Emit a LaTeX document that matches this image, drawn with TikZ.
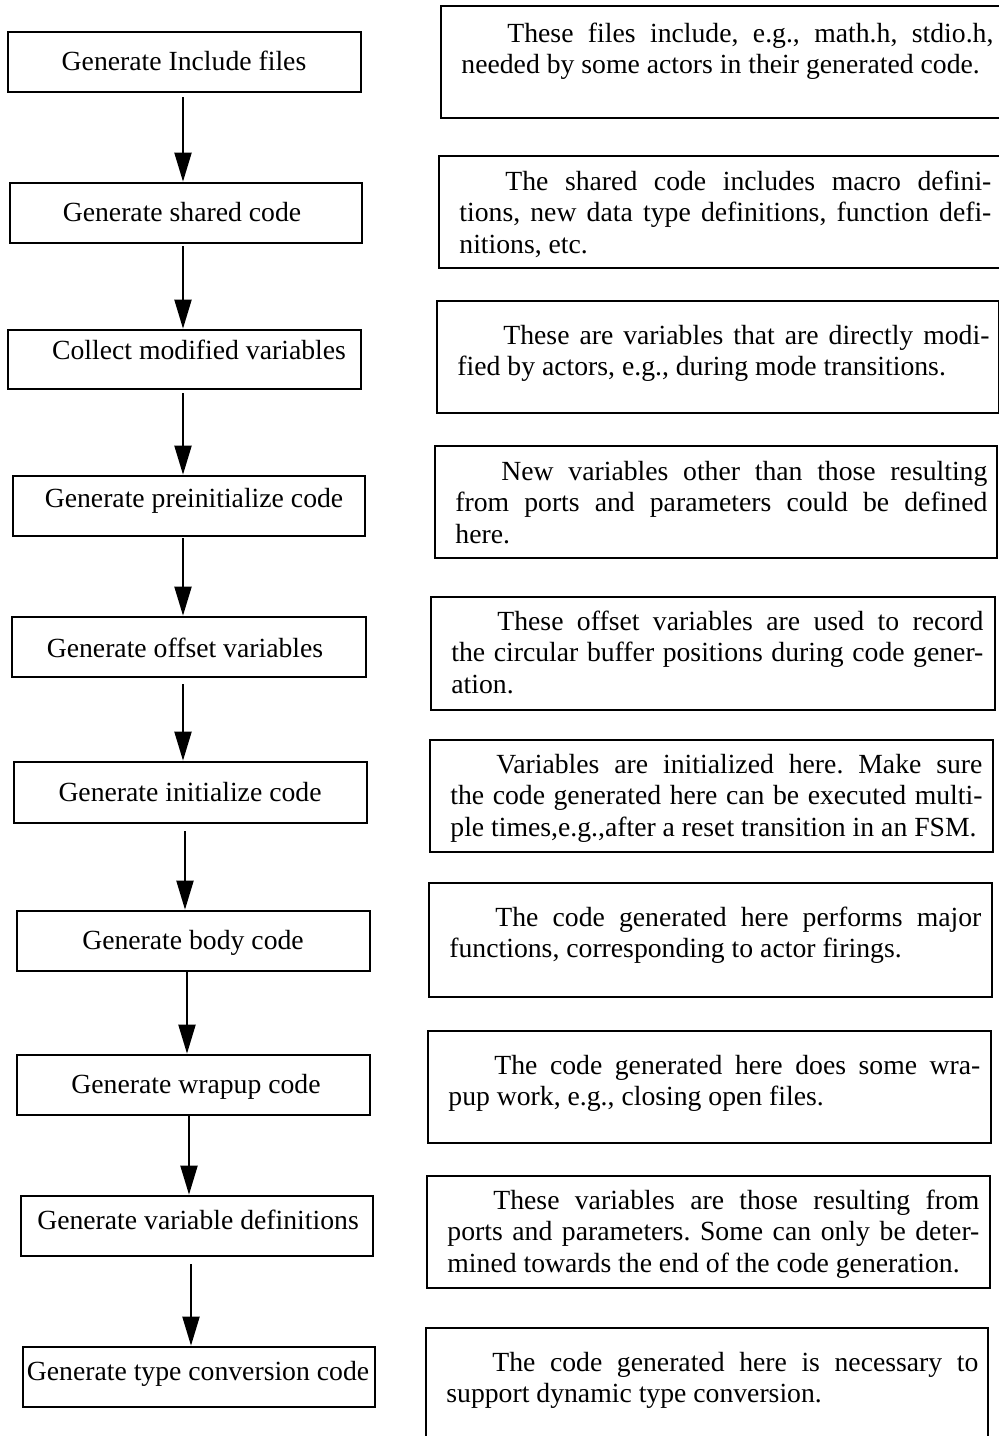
\documentclass[tikz,border=0pt]{standalone}
\usepackage{fontspec}
\setmainfont{Liberation Serif}
\usetikzlibrary{arrows.meta,fit,calc}
\frenchspacing

% width and first-line indent of the justified notes
\newlength\tw \setlength\tw{266pt}
\newlength\pind \setlength\pind{23pt}
\newcommand\firstln[1]{\hspace*{\pind}\makebox[\dimexpr\tw-\pind\relax][s]{#1}\\}
\newcommand\midln[1]{\makebox[\tw][s]{#1}\\}
\newcommand\note[1]{\parbox[t]{\tw}{#1}}

\begin{document}
\begin{tikzpicture}[x=0.5pt,y=-0.5pt,
  stepbox/.style={draw,line width=1.35pt,inner sep=0pt},
  steptext/.style={anchor=base,inner sep=0pt,font=\fontsize{13.85}{15.75}\selectfont},
  notebox/.style={draw,line width=1.35pt,inner sep=0pt},
  notetext/.style={anchor=base west,inner sep=0pt,font=\fontsize{13.85}{15.75}\selectfont},
  flow/.style={line width=1pt,-{Triangle[length=14.5pt,width=8.5pt]}}]

\useasboundingbox (0,0) rectangle (998,1436);

% ---- processing steps (left column)
\node[stepbox,fit={(8,32) (361,92)}] (b1) {};
\node[steptext] (t1) at (184,70) {Generate Include files};
\node[stepbox,fit={(10,183) (362,243)}] (b2) {};
\node[steptext] (t2) at (182,221) {Generate shared code};
\node[stepbox,fit={(8,330) (361,389)}] (b3) {};
\node[steptext] (t3) at (199,359) {Collect modified variables};
\node[stepbox,fit={(13,476) (365,536)}] (b4) {};
\node[steptext] (t4) at (194,507) {Generate preinitialize code};
\node[stepbox,fit={(12,617) (366,677)}] (b5) {};
\node[steptext] (t5) at (185,657) {Generate offset variables};
\node[stepbox,fit={(14,762) (367,823)}] (b6) {};
\node[steptext] (t6) at (190,801) {Generate initialize code};
\node[stepbox,fit={(17,911) (370,971)}] (b7) {};
\node[steptext] (t7) at (193,949) {Generate body code};
\node[stepbox,fit={(17,1055) (370,1115)}] (b8) {};
\node[steptext] (t8) at (196,1093) {Generate wrapup code};
\node[stepbox,fit={(21,1196) (373,1256)}] (b9) {};
\node[steptext] (t9) at (198,1229) {Generate variable definitions};
\node[stepbox,fit={(23,1347) (375,1407)}] (b10) {};
\node[steptext] (t10) at (198,1380) {Generate type conversion code};

% ---- flow arrows
\draw[flow] ($(b1.south -| 183,0)+(0,4)$) -- (b2.north -| 183,0);
\draw[flow] ($(b2.south -| 183,0)+(0,2)$) -- (b3.north -| 183,0);
\draw[flow] ($(b3.south -| 183,0)+(0,3)$) -- (b4.north -| 183,0);
\draw[flow] ($(b4.south -| 183,0)+(0,1)$) -- (b5.north -| 183,0);
\draw[flow] ($(b5.south -| 183,0)+(0,6)$) -- (b6.north -| 183,0);
\draw[flow] ($(b6.south -| 185,0)+(0,7)$) -- (b7.north -| 185,0);
\draw[flow] (b7.south -| 187,0) -- (b8.north -| 187,0);
\draw[flow] (b8.south -| 189,0) -- (b9.north -| 189,0);
\draw[flow] ($(b9.south -| 191,0)+(0,7)$) -- (b10.north -| 191,0);

% ---- explanatory notes (right column)
\node[notebox,fit={(441,6) (1003,118)}] (r1) {};
\node[notetext] (n1) at (461,42) {\note{%
  \firstln{These files include, e.g., math.h, stdio.h,}%
  needed by some actors in their generated code.}};

\node[notebox,fit={(439,156) (1001,268)}] (r2) {};
\node[notetext] (n2) at (459,190) {\note{%
  \firstln{The shared code includes macro defini-}%
  \midln{tions, new data type definitions, function defi-}%
  nitions, etc.}};

\node[notebox,fit={(437,301) (999,413)}] (r3) {};
\node[notetext] (n3) at (457,344) {\note{%
  \firstln{These are variables that are directly modi-}%
  fied by actors, e.g., during mode transitions.}};

\node[notebox,fit={(435,446) (997,558)}] (r4) {};
\node[notetext] (n4) at (455,480) {\note{%
  \firstln{New variables other than those resulting}%
  \midln{from ports and parameters could be defined}%
  here.}};

\node[notebox,fit={(431,597) (995,710)}] (r5) {};
\node[notetext] (n5) at (451,630) {\note{%
  \firstln{These offset variables are used to record}%
  \midln{the circular buffer positions during code gener-}%
  ation.}};

\node[notebox,fit={(430,740) (993,852)}] (r6) {};
\node[notetext] (n6) at (450,773) {\note{%
  \firstln{Variables are initialized here. Make sure}%
  \midln{the code generated here can be executed multi-}%
  ple times,e.g.,after a reset transition in an FSM.}};

\node[notebox,fit={(429,883) (992,997)}] (r7) {};
\node[notetext] (n7) at (449,926) {\note{%
  \firstln{The code generated here performs major}%
  functions, corresponding to actor firings.}};

\node[notebox,fit={(428,1031) (991,1143)}] (r8) {};
\node[notetext] (n8) at (448,1074) {\note{%
  \firstln{The code generated here does some wra-}%
  pup work, e.g., closing open files.}};

\node[notebox,fit={(427,1176) (990,1288)}] (r9) {};
\node[notetext] (n9) at (447,1209) {\note{%
  \firstln{These variables are those resulting from}%
  \midln{ports and parameters. Some can only be deter-}%
  mined towards the end of the code generation.}};

\node[notebox,fit={(426,1328) (988,1440)}] (r10) {};
\node[notetext] (n10) at (446,1371) {\note{%
  \firstln{The code generated here is necessary to}%
  support dynamic type conversion.}};

\end{tikzpicture}
\end{document}
